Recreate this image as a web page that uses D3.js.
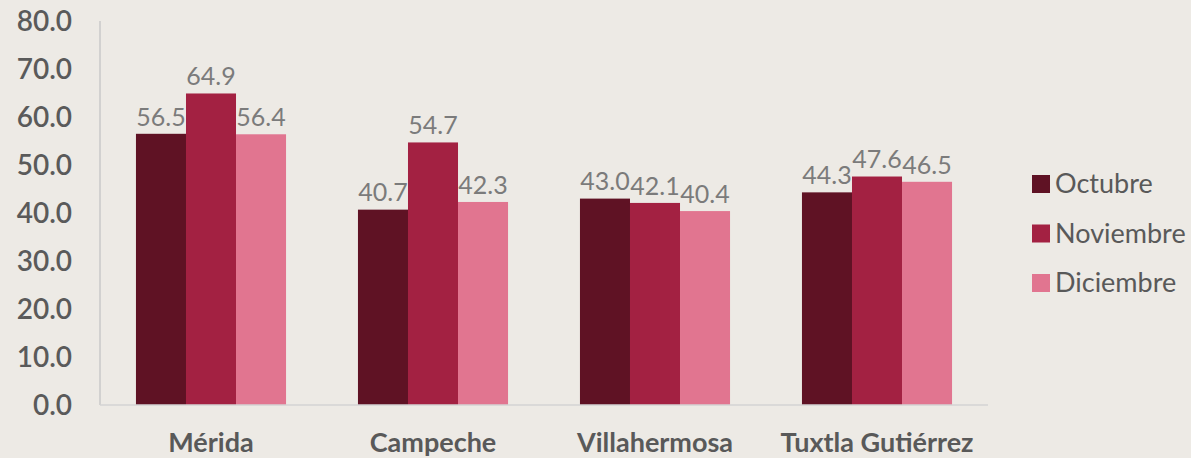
<!DOCTYPE html>
<html lang="es">
<head>
  <meta charset="UTF-8">
  <title>Ciudades por mes</title>
  <script src="https://d3js.org/d3.v7.min.js"></script>
  <style>
    body { margin: 0; background: #edeae5; }
    svg { display: block; font-family: Lato, "Open Sans", sans-serif; }
  </style>
</head>
<body>
  <div id="chart"></div>

  <script>
    // Data
    const cities = ["Mérida", "Campeche", "Villahermosa", "Tuxtla Gutiérrez"];
    const months = ["Octubre", "Noviembre", "Diciembre"];
    const octubre = [56.5, 40.7, 43.0, 44.3];
    const noviembre = [64.9, 54.7, 42.1, 47.6];
    const diciembre = [56.4, 42.3, 40.4, 46.5];
    const yTicks = [0, 10, 20, 30, 40, 50, 60, 70, 80];

    const series = [octubre, noviembre, diciembre];
    const colors = ["#5f1224", "#a32142", "#e17590"];

    const width = 1191, height = 458;
    const plot = { left: 100, right: 988, top: 21, bottom: 405 };

    const svg = d3.select("#chart").append("svg")
      .attr("width", width)
      .attr("height", height);

    svg.append("rect")
      .attr("width", width).attr("height", height)
      .attr("fill", "#edeae5");

    const x = d3.scaleBand()
      .domain(cities)
      .range([plot.left, plot.right])
      .paddingInner(0.324)
      .paddingOuter(0.162);

    const xSub = d3.scaleBand()
      .domain(months)
      .range([0, x.bandwidth()]);

    const y = d3.scaleLinear()
      .domain([0, 80])
      .range([plot.bottom, plot.top]);

    // y tick labels
    svg.append("g")
      .selectAll("text")
      .data(yTicks)
      .join("text")
      .attr("x", 72)
      .attr("y", d => y(d))
      .attr("dy", "0.35em")
      .attr("text-anchor", "end")
      .attr("fill", "#5a5a5a")
      .attr("font-size", 28)
      .attr("font-weight", 600)
      .text(d => d.toFixed(1));

    // bars
    const rows = cities.map((c, i) => ({ city: c, values: months.map((m, j) => ({ month: m, value: series[j][i], k: j })) }));

    const groups = svg.append("g")
      .selectAll("g")
      .data(rows)
      .join("g")
      .attr("transform", d => `translate(${x(d.city)},0)`);

    groups.selectAll("rect")
      .data(d => d.values)
      .join("rect")
      .attr("x", d => xSub(d.month))
      .attr("y", d => y(d.value))
      .attr("width", xSub.bandwidth())
      .attr("height", d => y(0) - y(d.value))
      .attr("fill", d => colors[d.k]);

    groups.selectAll("text")
      .data(d => d.values)
      .join("text")
      .attr("x", d => xSub(d.month) + xSub.bandwidth() / 2)
      .attr("y", d => y(d.value) - 17)
      .attr("dy", "0.35em")
      .attr("text-anchor", "middle")
      .attr("fill", "#7b7b7b")
      .attr("font-size", 25)
      .text(d => d.value.toFixed(1));

    // axis lines
    svg.append("line")
      .attr("x1", plot.left).attr("x2", plot.left)
      .attr("y1", plot.top).attr("y2", plot.bottom)
      .attr("stroke", "#c9c9c9").attr("stroke-width", 1.5);
    svg.append("line")
      .attr("x1", plot.left).attr("x2", plot.right)
      .attr("y1", plot.bottom).attr("y2", plot.bottom)
      .attr("stroke", "#d3d3d3").attr("stroke-width", 1.5);

    // category labels
    svg.append("g")
      .selectAll("text")
      .data(cities)
      .join("text")
      .attr("x", d => x(d) + x.bandwidth() / 2)
      .attr("y", 443)
      .attr("dy", "0.35em")
      .attr("text-anchor", "middle")
      .attr("fill", "#595959")
      .attr("font-size", 27)
      .attr("font-weight", 700)
      .text(d => d);

    // legend
    const legend = svg.append("g")
      .selectAll("g")
      .data(months)
      .join("g")
      .attr("transform", (d, i) => `translate(1032,${184 + i * 49.5})`);

    legend.append("rect")
      .attr("x", 0).attr("y", -9)
      .attr("width", 18).attr("height", 18)
      .attr("fill", (d, i) => colors[i]);

    legend.append("text")
      .attr("x", 23)
      .attr("y", 0)
      .attr("dy", "0.35em")
      .attr("fill", "#595959")
      .attr("font-size", 27)
      .text(d => d);
  </script>
</body>
</html>
